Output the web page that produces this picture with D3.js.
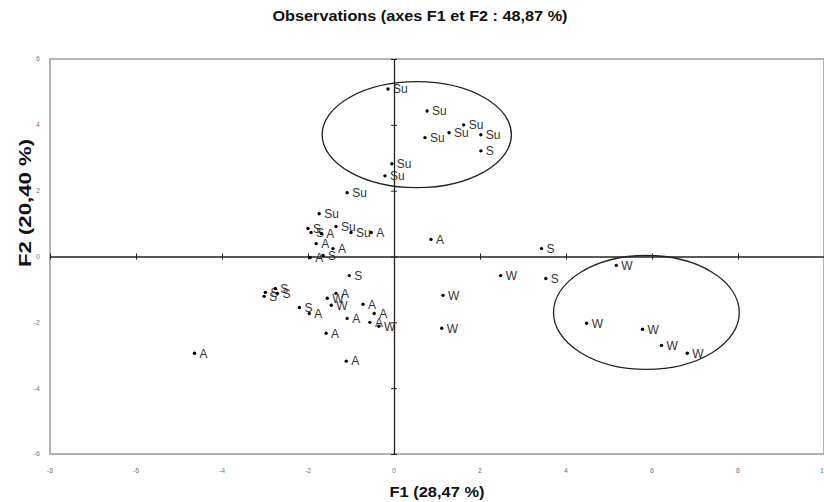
<!DOCTYPE html>
<html>
<head>
<meta charset="utf-8">
<script src="https://cdn.jsdelivr.net/npm/d3@7/dist/d3.min.js"></script>
<style>
  body { margin: 0; background: #fff; }
  text { font-family: Arial, "Liberation Sans", sans-serif; }
</style>
</head>
<body>
<script>
// observation labels and their coordinates on F1 / F2
var labels = ["Su","Su","Su","Su","Su","Su","Su","Su","Su","Su","Su","Su",
              "S","S","S","S","S","S","S","S","S","S","S","S",
              "A","A","A","A","A","A","A","A","A","A","A","A","A","A","A",
              "W","W","W","W","W","W","W","W","W","W","W"];
var f1 = [-0.14, 0.77, 1.62, 1.28, 0.72, 2.02, -0.05, -0.21, -1.09, -1.74, -1.35, -1.00,
          2.02, -2.00, -1.93, -1.65, -1.04, 3.43, 3.53, -2.99, -3.02, -2.76, -2.71, -2.20,
          -1.69, -0.53, -1.81, -1.42, -1.95, 0.86, -1.97, -1.35, -0.72, -0.46, -1.09, -1.58, -4.64, -1.11, -0.56,
          -1.55, -1.46, -0.35, 2.48, 1.14, 1.11, 5.17, 4.48, 5.78, 6.22, 6.82];
var f2 = [5.09, 4.42, 4.00, 3.76, 3.61, 3.70, 2.82, 2.45, 1.94, 1.30, 0.91, 0.73,
          3.21, 0.85, 0.73, 0.03, -0.58, 0.24, -0.67, -1.09, -1.21, -0.97, -1.12, -1.55,
          0.70, 0.73, 0.39, 0.24, -0.03, 0.52, -1.73, -1.12, -1.45, -1.73, -1.88, -2.33, -2.94, -3.18, -2.00,
          -1.27, -1.48, -2.12, -0.58, -1.18, -2.18, -0.27, -2.03, -2.21, -2.70, -2.94];

// the two groups circled on the map: centre and radii in axis units
var ellCx = [0.53, 5.87];
var ellCy = [3.70, -1.70];
var ellRx = [2.20, 2.16];
var ellRy = [1.61, 1.73];

var xTicks = [-8, -6, -4, -2, 0, 2, 4, 6, 8, 10];
var yTicks = [-6, -4, -2, 0, 2, 4, 6];

var W = 824, H = 502;
var svg = d3.select("body").append("svg")
            .attr("width", W)
            .attr("height", H);

var x = d3.scaleLinear().domain([-8, 10]).range([50, 824]);
var y = d3.scaleLinear().domain([-6, 6]).range([454, 59]);

// title
svg.append("text")
   .attr("x", 420)
   .attr("y", 21)
   .attr("text-anchor", "middle")
   .attr("font-size", "14px")
   .attr("font-weight", "bold")
   .attr("textLength", 295)
   .attr("lengthAdjust", "spacingAndGlyphs")
   .attr("fill", "#111")
   .text("Observations (axes F1 et F2 : 48,87 %)");

// frame
svg.append("rect")
   .attr("x", x(-8))
   .attr("y", y(6))
   .attr("width", x(10) - x(-8))
   .attr("height", y(-6) - y(6))
   .attr("fill", "none")
   .attr("stroke", "#9a9a9a")
   .attr("stroke-width", 1.5);

// tick labels
svg.append("g").selectAll("text").data(xTicks).enter().append("text")
   .attr("x", function(d){ return x(d); })
   .attr("y", 473)
   .attr("text-anchor", "middle")
   .attr("font-size", "7px")
   .attr("fill", "#777")
   .text(function(d){ return d; });

svg.append("g").selectAll("text").data(yTicks).enter().append("text")
   .attr("x", 40)
   .attr("y", function(d){ return y(d); })
   .attr("dy", ".35em")
   .attr("text-anchor", "end")
   .attr("font-size", "7px")
   .attr("fill", "#777")
   .text(function(d){ return d; });

// axes through the origin, with their small ticks
var xAxis = d3.axisBottom(x).tickValues(xTicks).tickSize(6).tickSizeOuter(0).tickFormat("");
var yAxis = d3.axisLeft(y).tickValues(yTicks).tickSize(6).tickSizeOuter(0).tickFormat("");

svg.append("g")
   .attr("transform", "translate(0," + (y(0) - 3) + ")")
   .call(xAxis)
   .call(function(g){
      g.select(".domain").attr("transform", "translate(0,3)").attr("stroke", "#222").attr("stroke-width", 1.3);
      g.selectAll(".tick line").attr("stroke", "#222");
   });

svg.append("g")
   .attr("transform", "translate(" + (x(0) + 3) + ",0)")
   .call(yAxis)
   .call(function(g){
      g.select(".domain").attr("transform", "translate(-3,0)").attr("stroke", "#222").attr("stroke-width", 1.3);
      g.selectAll(".tick line").attr("stroke", "#222");
   });

// axis titles
svg.append("text")
   .attr("x", 437)
   .attr("y", 497)
   .attr("text-anchor", "middle")
   .attr("font-size", "14px")
   .attr("font-weight", "bold")
   .attr("textLength", 95)
   .attr("lengthAdjust", "spacingAndGlyphs")
   .attr("fill", "#111")
   .text("F1 (28,47 %)");

svg.append("text")
   .attr("transform", "translate(31,203) rotate(-90)")
   .attr("text-anchor", "middle")
   .attr("font-size", "16px")
   .attr("font-weight", "bold")
   .attr("textLength", 128)
   .attr("lengthAdjust", "spacingAndGlyphs")
   .attr("fill", "#111")
   .text("F2 (20,40 %)");

// ellipses
for(var e = 0; e < ellCx.length; e++){
    svg.append("ellipse")
       .attr("cx", x(ellCx[e]))
       .attr("cy", y(ellCy[e]))
       .attr("rx", x(ellRx[e]) - x(0))
       .attr("ry", y(0) - y(ellRy[e]))
       .attr("fill", "none")
       .attr("stroke", "#222")
       .attr("stroke-width", 1.3);
}

// points and their labels
var pts = svg.append("g");
for(var i = 0; i < labels.length; i++){
    pts.append("circle")
       .attr("cx", x(f1[i]))
       .attr("cy", y(f2[i]))
       .attr("r", 1.7)
       .attr("fill", "#000");
    pts.append("text")
       .attr("x", x(f1[i]) + 5)
       .attr("y", y(f2[i]))
       .attr("dy", ".36em")
       .attr("font-size", "12px")
       .attr("fill", "#333")
       .text(labels[i]);
}
</script>
</body>
</html>
